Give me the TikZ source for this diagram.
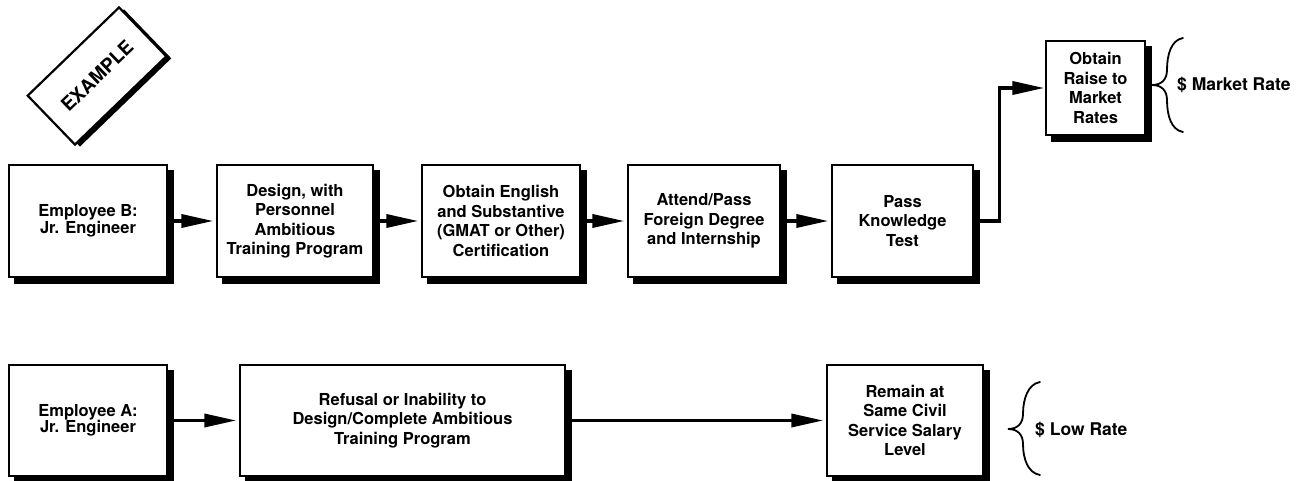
\documentclass[tikz,border=0pt]{standalone}
\usepackage{fontspec}
\setmainfont{TeX Gyre Heros}
\usetikzlibrary{arrows.meta}
\pgfdeclarelayer{shadowlayer}
\pgfsetlayers{shadowlayer,main}
\newcommand{\boxshadow}[1]{%
  \begin{pgfonlayer}{shadowlayer}
    \fill[black] ([shift={(6,6)}]#1.south west) rectangle ([shift={(6,6)}]#1.north east);
  \end{pgfonlayer}}
\begin{document}
\begin{tikzpicture}[x=1pt,y=-1pt,
  box/.style={draw, line width=1.3pt, fill=white, align=center, inner sep=0pt,
    font=\bfseries\fontsize{16.5}{19.5}\selectfont},
  empbox/.style={box, font=\bfseries\fontsize{16.5}{16.5}\selectfont},
  arr/.style={line width=3.5pt, -{Triangle[length=32pt,width=13pt]}, shorten >=3pt},
  bracepath/.style={line width=1.8pt, line cap=round},
  lbl/.style={font=\bfseries\fontsize{17.5}{20}\selectfont, anchor=west, inner sep=0pt},
  tagbox/.style={rotate=44, minimum width=127pt, minimum height=68pt, inner sep=0pt}]
\useasboundingbox (0,0) rectangle (1311,481);

% EXAMPLE tag
\node[tagbox, fill=black] (tagshadow) at (102,78) {};
\node[tagbox, draw, line width=2.2pt, fill=white,
  font=\bfseries\fontsize{19}{20}\selectfont] (tag) at (97,76) {EXAMPLE};

% Row B
\node[empbox, minimum width=158pt, minimum height=112pt] (b1) at (88,221) {Employee B:\\Jr. Engineer};
\node[box, minimum width=156pt, minimum height=112pt] (b2) at (295,221) {Design, with\\Personnel\\Ambitious\\Training Program};
\node[box, minimum width=158pt, minimum height=112pt] (b3) at (501,221) {Obtain English\\and Substantive\\(GMAT or Other)\\Certification};
\node[box, minimum width=152pt, minimum height=112pt] (b4) at (704,221) {Attend/Pass\\Foreign Degree\\and Internship};
\node[box, minimum width=141pt, minimum height=112pt] (b5) at (902.5,221) {Pass\\Knowledge\\Test};
\node[box, minimum width=99pt, minimum height=94pt] (b6) at (1095.5,88) {Obtain\\Raise to\\Market\\Rates};

% Row A
\node[empbox, minimum width=158pt, minimum height=111pt] (a1) at (88,420.5) {Employee A:\\Jr. Engineer};
\node[box, minimum width=325pt, minimum height=111pt] (a2) at (402.5,420.5) {Refusal or Inability to\\Design/Complete Ambitious\\Training Program};
\node[box, minimum width=156pt, minimum height=111pt] (a3) at (905,420.5) {Remain at\\Same Civil\\Service Salary\\Level};

\boxshadow{b1}\boxshadow{b2}\boxshadow{b3}\boxshadow{b4}\boxshadow{b5}\boxshadow{b6}
\boxshadow{a1}\boxshadow{a2}\boxshadow{a3}

\draw[arr, shorten <=6pt] (b1.east) -- (b2.west);
\draw[arr, shorten <=6pt] (b2.east) -- (b3.west);
\draw[arr, shorten <=6pt] (b3.east) -- (b4.west);
\draw[arr, shorten <=6pt] (b4.east) -- (b5.west);
\draw[arr, shorten >=1pt] (b5.east) -- ++(26,0) |- (b6.west);

% brace B
\draw[bracepath] (1183,38) .. controls (1171,40) and (1167,55) .. (1167,70)
  .. controls (1167,80) and (1161,85) .. (1152,85)
  .. controls (1161,85) and (1167,90) .. (1167,100)
  .. controls (1167,115) and (1171,130) .. (1183,132);
\node[lbl] (lm) at (1177,85) {\$ Market Rate};

\draw[arr, shorten <=6pt] (a1.east) -- (a2.west);
\draw[arr, shorten <=6pt] (a2.east) -- (a3.west);

% brace A
\draw[bracepath] (1040,382) .. controls (1028,384) and (1023,399) .. (1023,414)
  .. controls (1023,424) and (1017,429) .. (1008,429)
  .. controls (1017,429) and (1023,434) .. (1023,444)
  .. controls (1023,459) and (1028,473) .. (1040,475);
\node[lbl] (ll) at (1035,430) {\$ Low Rate};
\end{tikzpicture}
\end{document}
